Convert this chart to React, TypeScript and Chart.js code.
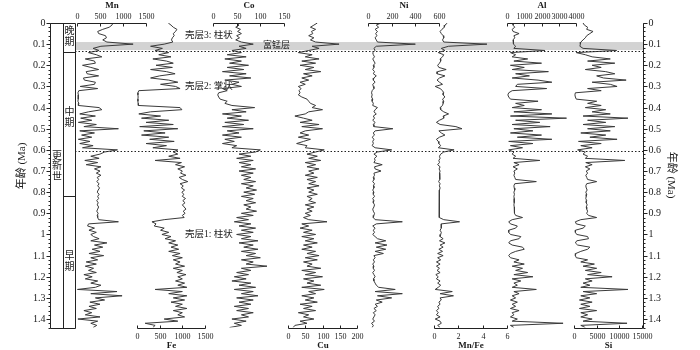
import React, { useEffect, useRef } from "react";
import { Chart, registerables } from "chart.js";

Chart.register(...registerables);

// ---------- data (age in Ma, shared by all elements) ----------
const ages = [
  0, 0.01, 0.02, 0.03, 0.04, 0.05, 0.06, 0.07, 0.08, 0.09,
  0.1, 0.11, 0.12, 0.13, 0.14, 0.15, 0.16, 0.17, 0.18, 0.19,
  0.2, 0.21, 0.22, 0.23, 0.24, 0.25, 0.26, 0.27, 0.28, 0.29,
  0.3, 0.31, 0.32, 0.33, 0.34, 0.35, 0.36, 0.37, 0.38, 0.39,
  0.4, 0.41, 0.42, 0.43, 0.44, 0.45, 0.46, 0.47, 0.48, 0.49,
  0.5, 0.51, 0.52, 0.53, 0.54, 0.55, 0.56, 0.57, 0.58, 0.59,
  0.6, 0.61, 0.62, 0.63, 0.64, 0.65, 0.66, 0.67, 0.68, 0.69,
  0.7, 0.71, 0.72, 0.73, 0.74, 0.75, 0.76, 0.77, 0.78, 0.79,
  0.8, 0.81, 0.82, 0.83, 0.84, 0.85, 0.86, 0.87, 0.88, 0.89,
  0.9, 0.91, 0.92, 0.93, 0.94, 0.95, 0.96, 0.97, 0.98, 0.99,
  1.0, 1.01, 1.02, 1.03, 1.04, 1.05, 1.06, 1.07, 1.08, 1.09,
  1.1, 1.11, 1.12, 1.13, 1.14, 1.15, 1.16, 1.17, 1.18, 1.19,
  1.2, 1.21, 1.22, 1.23, 1.24, 1.25, 1.26, 1.27, 1.28, 1.29,
  1.3, 1.31, 1.32, 1.33, 1.34, 1.35, 1.36, 1.37, 1.38, 1.39,
  1.4, 1.41, 1.42, 1.43, 1.44,
];

const mn = [
  780, 760, 700, 560, 450, 470, 620, 640, 560, 650,
  1220, 520, 350, 480, 250, 420, 540, 180, 380, 400,
  120, 300, 470, 200, 220, 470, 140, 160, 400, 380,
  70, 450, 40, 20, 30, 25, 30, 20, 40, 30,
  480, 540, 250, 60, 400, 80, 320, 30, 420, 150,
  900, 60, 380, 100, 320, 30, 280, 60, 350, 120,
  880, 600, 500, 300, 480, 170, 450, 200, 520, 380,
  500, 420, 520, 440, 470, 430, 480, 450, 490, 460,
  440, 480, 450, 470, 430, 460, 440, 470, 450, 430,
  460, 440, 450, 470, 900, 250, 230, 380, 260, 420,
  300, 360, 480, 300, 650, 380, 560, 330, 500, 260,
  580, 300, 450, 200, 420, 180, 360, 250, 420, 150,
  330, 180, 450, 300, 520, 400, 10, 870, 300, 980,
  400, 600, 280, 500, 260, 420, 150, 320, 180, 500,
  20, 450, 300, 430, 350,
];

const fe = [
  690, 750, 800, 880, 850, 800, 820, 780, 760, 790,
  600, 300, 560, 400, 700, 480, 750, 350, 650, 800,
  420, 780, 300, 650, 840, 500, 300, 700, 900, 520,
  850, 950, 40, 20, 20, 25, 20, 20, 25, 30,
  950, 990, 300, 40, 520, 100, 700, 200, 800, 60,
  900, 150, 620, 100, 700, 280, 820, 200, 650, 350,
  900, 800, 900, 700, 950, 400, 980, 850, 1050, 900,
  1000, 960, 1080, 930, 1000, 1120, 950, 1020, 980, 1050,
  990, 1030, 1000, 1070, 1010, 1060, 1000, 1040, 1080, 1020,
  1060, 1000, 1040, 600, 330, 420, 380, 600, 520, 700,
  550, 750, 620, 850, 700, 900, 750, 920, 700, 950,
  780, 1000, 800, 950, 850, 1050, 800, 1000, 880, 1080,
  900, 1000, 850, 1050, 900, 1100, 400, 1000, 700, 1100,
  800, 1050, 750, 1000, 850, 1100, 800, 1000, 900, 1050,
  600, 900, 180, 400, 350,
];

const co = [
  50, 55, 48, 58, 52, 60, 50, 56, 48, 60,
  85, 55, 70, 40, 60, 30, 70, 25, 60, 35,
  75, 30, 65, 20, 70, 35, 80, 25, 55, 40,
  60, 20, 30, 12, 10, 12, 15, 30, 25, 40,
  88, 40, 70, 20, 60, 30, 75, 25, 65, 20,
  85, 30, 55, 20, 60, 25, 45, 20, 50, 40,
  100, 90, 55, 80, 50, 85, 55, 80, 60, 90,
  55, 85, 60, 80, 65, 90, 60, 85, 70, 92,
  65, 88, 60, 85, 70, 90, 65, 80, 70, 92,
  60, 85, 50, 75, 45, 80, 55, 90, 60, 85,
  50, 80, 60, 95, 55, 85, 65, 95, 60, 90,
  70, 100, 60, 85, 70, 114, 60, 80, 50, 75,
  45, 70, 40, 80, 55, 90, 45, 85, 60, 95,
  50, 85, 55, 80, 45, 75, 50, 85, 60, 75,
  40, 70, 45, 60, 35,
];

const cu = [
  85, 75, 65, 80, 68, 72, 60, 75, 65, 80,
  148, 70, 90, 60, 30, 70, 50, 90, 40, 80,
  35, 75, 50, 95, 45, 70, 40, 60, 35, 50,
  30, 38, 32, 35, 30, 40, 55, 60, 65, 80,
  70, 100, 60, 50, 20, 45, 70, 35, 90, 40,
  100, 50, 35, 60, 30, 65, 45, 25, 55, 50,
  105, 80, 55, 85, 60, 95, 50, 80, 55, 90,
  60, 75, 50, 85, 55, 80, 60, 90, 55, 75,
  60, 85, 55, 70, 60, 80, 50, 75, 55, 70,
  50, 65, 45, 60, 113, 40, 60, 35, 70, 45,
  80, 40, 75, 50, 85, 45, 70, 40, 80, 55,
  90, 50, 85, 45, 70, 55, 95, 40, 80, 50,
  100, 45, 75, 55, 95, 40, 105, 60, 80, 40,
  75, 50, 85, 35, 70, 45, 80, 30, 60, 45,
  75, 35, 55, 20, 15,
];

const ni = [
  110, 70, 90, 60, 80, 65, 75, 60, 70, 80,
  400, 70, 50, 60, 40, 45, 55, 40, 50, 60,
  45, 50, 40, 55, 45, 70, 50, 45, 60, 40,
  45, 50, 35, 30, 35, 30, 40, 35, 45, 40,
  80, 60, 50, 70, 45, 55, 40, 60, 45, 50,
  210, 60, 45, 55, 35, 50, 40, 45, 35, 60,
  200, 80, 50, 75, 55, 60, 50, 120, 55, 60,
  110, 50, 55, 45, 50, 40, 55, 45, 50, 40,
  50, 45, 55, 40, 50, 45, 55, 50, 40, 45,
  55, 50, 45, 60, 290, 70, 40, 60, 45, 55,
  40, 60, 80, 150, 60, 160, 70, 150, 60, 130,
  50, 60, 45, 55, 40, 50, 45, 55, 40, 50,
  60, 45, 50, 60, 70, 90, 230, 60, 290, 80,
  200, 70, 120, 60, 80, 50, 70, 45, 60, 50,
  40, 55, 30, 45, 35,
];

const mnFe = [
  1.1, 0.9, 0.85, 0.65, 0.5, 0.6, 0.75, 0.8, 0.7, 0.8,
  4.35, 1.2, 0.6, 0.9, 0.35, 0.8, 0.7, 0.5, 0.55, 0.45,
  0.3, 0.4, 1.0, 0.3, 0.25, 0.9, 0.45, 0.25, 0.45, 0.7,
  0.1, 0.5, 0.7, 0.8, 0.75, 0.9, 0.7, 0.8, 0.75, 0.7,
  0.5, 0.55, 0.8, 1.2, 0.75, 0.8, 0.45, 0.2, 0.5, 1.8,
  2.3, 0.4, 0.6, 0.9, 0.45, 0.2, 0.35, 0.4, 0.55, 0.35,
  1.65, 0.8, 0.55, 0.45, 0.5, 0.4, 0.45, 0.3, 0.5, 0.42,
  0.5, 0.45, 0.48, 0.47, 0.47, 0.38, 0.5, 0.44, 0.5, 0.45,
  0.44, 0.46, 0.45, 0.44, 0.42, 0.43, 0.44, 0.45, 0.42, 0.42,
  0.43, 0.44, 0.43, 0.8, 2.1, 0.6, 0.6, 0.6, 0.5, 0.6,
  0.55, 0.5, 0.75, 0.45, 0.9, 0.5, 0.75, 0.4, 0.7, 0.3,
  0.75, 0.3, 0.55, 0.2, 0.5, 0.2, 0.45, 0.25, 0.5, 0.15,
  0.35, 0.2, 0.5, 0.3, 0.55, 0.35, 0.1, 1.5, 0.5, 1.6,
  0.5, 0.6, 0.4, 0.5, 0.3, 0.4, 0.2, 0.35, 0.2, 0.5,
  0.1, 0.5, 0.6, 0.3, 0.5,
];

const al = [
  400, 350, 450, 300, 350, 700, 400, 450, 350, 400,
  350, 500, 400, 2200, 200, 500, 300, 1200, 400, 2000,
  200, 1000, 300, 2400, 500, 1300, 300, 1800, 2600, 600,
  500, 2300, 300, 100, 50, 100, 200, 1800, 500, 1000,
  300, 2000, 400, 2600, 200, 3450, 500, 1900, 300, 2500,
  400, 1500, 200, 2000, 600, 2600, 100, 1500, 200, 900,
  100, 400, 300, 500, 350, 1900, 400, 700, 350, 600,
  400, 450, 400, 450, 500, 1700, 450, 400, 420, 450,
  400, 430, 400, 420, 410, 430, 400, 420, 430, 450,
  420, 500, 900, 300, 100, 200, 600, 500, 100, 100,
  200, 800, 700, 200, 100, 300, 900, 1000, 500, 200,
  100, 200, 700, 400, 1000, 300, 900, 500, 1200, 400,
  1500, 300, 800, 400, 600, 300, 1700, 400, 700, 300,
  500, 200, 600, 300, 500, 200, 700, 300, 400, 200,
  600, 300, 3250, 200, 400,
];

const si = [
  2000, 2300, 3000, 2800, 4200, 3500, 2800, 2500, 2000, 1500,
  1400, 1300, 2000, 9400, 500, 2500, 4000, 8000, 3000, 9000,
  4000, 6000, 2500, 7000, 9000, 5000, 6500, 11500, 4000, 8000,
  9500, 3000, 6000, 300, 200, 300, 500, 5000, 3000, 6000,
  2500, 7000, 4000, 8000, 2000, 11900, 3000, 7000, 2000, 9000,
  3000, 8000, 1500, 7000, 3500, 9500, 1000, 6000, 1500, 4000,
  800, 2500, 2000, 3000, 2500, 11200, 2600, 4000, 2500, 3500,
  2700, 3000, 2600, 2800, 3000, 5000, 2800, 2600, 2700, 2900,
  2600, 2800, 2700, 2600, 2800, 2700, 2900, 2700, 2800, 3000,
  2800, 3200, 5000, 1500, 300, 500, 2500, 2000, 300, 300,
  600, 3000, 3200, 600, 300, 800, 3500, 3000, 1500, 400,
  300, 500, 3000, 1500, 4500, 2000, 5000, 2500, 6000, 3000,
  8400, 2500, 4000, 2000, 3500, 1500, 11900, 2000, 5000, 1500,
  3500, 1200, 4000, 1500, 3500, 1200, 5000, 1500, 3000, 1500,
  4000, 2000, 11700, 1500, 2500,
];

// ---------- tick labels ----------
const mnTicks = [0, 500, 1000, 1500];
const feTicks = [0, 500, 1000, 1500];
const coTicks = [0, 50, 100, 150];
const cuTicks = [0, 50, 100, 150, 200];
const niTicks = [0, 200, 400, 600];
const mnFeTicks = [0, 2, 4, 6];
const alTicks = [0, 1000, 2000, 3000, 4000];
const siTicks = [0, 5000, 10000, 15000];

const ageTicks = [0, 0.1, 0.2, 0.3, 0.4, 0.5, 0.6, 0.7, 0.8, 0.9, 1, 1.1, 1.2, 1.3, 1.4];
const ageTickLabels = ["0", "0.1", "0.2", "0.3", "0.4", "0.5", "0.6", "0.7", "0.8", "0.9", "1", "1.1", "1.2", "1.3", "1.4"];
const ageTitle = "年龄 (Ma)";

// ---------- annotations ----------
const bandAges = [0.09, 0.128];
const boundaryAges = [0.131, 0.606];
const stageBounds = [0.135, 0.82];
const stageNames = ["晚期", "中期", "早期"];
const stageCenters = [0.067, 0.447, 1.13];
const epochName = "更新世";
const epochCenter = 0.68;
const shellLabels = ["壳层3: 柱状", "壳层2: 掌状", "壳层1: 柱状"];
const shellAges = [0.06, 0.3, 1.0];
const mnLayerLabel = "富锰层";
const mnLayerAge = 0.109;

// ---------- layout ----------
const L = 50, R = 643, T = 23, B = 327.5;
const COL_MID = 63, COL_R = 75;

const panels = [
  { id: "xMn", name: "Mn", data: mn, ticks: mnTicks, p0: 77, p1: 146, side: "top" },
  { id: "xFe", name: "Fe", data: fe, ticks: feTicks, p0: 137, p1: 205, side: "bottom" },
  { id: "xCo", name: "Co", data: co, ticks: coTicks, p0: 213, p1: 284, side: "top" },
  { id: "xCu", name: "Cu", data: cu, ticks: cuTicks, p0: 288, p1: 357, side: "bottom" },
  { id: "xNi", name: "Ni", data: ni, ticks: niTicks, p0: 368, p1: 439, side: "top" },
  { id: "xMnFe", name: "Mn/Fe", data: mnFe, ticks: mnFeTicks, p0: 434, p1: 507, side: "bottom" },
  { id: "xAl", name: "Al", data: al, ticks: alTicks, p0: 507, p1: 576, side: "top" },
  { id: "xSi", name: "Si", data: si, ticks: siTicks, p0: 574, p1: 642, side: "bottom" },
];

const SERIF = '"Liberation Serif", "Noto Sans CJK SC", serif';
const INK = "#1a1a1a";

const decor = {
  id: "decor",
  beforeDatasetsDraw(chart: any) {
    const { ctx, chartArea: ca } = chart;
    const ys = chart.scales.y;
    const t = ys.getPixelForValue(bandAges[0]);
    const b = ys.getPixelForValue(bandAges[1]);
    ctx.save();
    ctx.fillStyle = "#d3d3d3";
    ctx.fillRect(COL_R, t, ca.right - COL_R, b - t);
    ctx.restore();
  },
  afterDatasetsDraw(chart: any) {
    const { ctx, chartArea: ca } = chart;
    const ys = chart.scales.y;
    const Y = (a: number) => ys.getPixelForValue(a);
    const top = Math.round(ca.top) + 0.5;
    const bot = Math.round(ca.bottom) + 0.5;
    const xl = Math.round(ca.left) + 0.5;
    const xr = Math.round(ca.right) + 0.5;
    const line = (x1: number, y1: number, x2: number, y2: number) => {
      ctx.beginPath();
      ctx.moveTo(x1, y1);
      ctx.lineTo(x2, y2);
      ctx.stroke();
    };
    ctx.save();
    ctx.strokeStyle = "#222";
    ctx.fillStyle = INK;
    ctx.lineWidth = 1;

    // dotted boundaries
    ctx.setLineDash([1.5, 2]);
    boundaryAges.forEach((a) => {
      const y = Math.round(Y(a)) + 0.5;
      line(COL_R, y, ca.right, y);
    });
    ctx.setLineDash([]);

    // age axes
    line(xl, top, xl, bot);
    line(xr, top, xr, bot);
    for (let a = 0; a <= 1.4401; a += 0.02) {
      const y = Math.round(Y(a)) + 0.5;
      line(xl - 2, y, xl, y);
      line(xr, y, xr + 2, y);
    }
    ctx.font = `10px ${SERIF}`;
    ctx.textBaseline = "middle";
    ageTicks.forEach((a, i) => {
      const y = Math.round(Y(a)) + 0.5;
      line(xl - 4, y, xl, y);
      line(xr, y, xr + 4, y);
      ctx.textAlign = "right";
      ctx.fillText(ageTickLabels[i], xl - 5, y);
      ctx.textAlign = "left";
      ctx.fillText(ageTickLabels[i], xr + 5, y);
    });

    // age titles
    ctx.font = `11px ${SERIF}`;
    ctx.textAlign = "center";
    ctx.save();
    ctx.translate(22, 166);
    ctx.rotate(-Math.PI / 2);
    ctx.fillText(ageTitle, 0, 0);
    ctx.restore();
    ctx.save();
    ctx.translate(671, 175);
    ctx.rotate(Math.PI / 2);
    ctx.fillText(ageTitle, 0, 0);
    ctx.restore();

    // stratigraphic column
    const cm = COL_MID + 0.5, cr = COL_R + 0.5;
    line(xl, top, cr, top);
    line(xl, bot, cr, bot);
    line(cm, top, cm, bot);
    line(cr, top, cr, bot);
    stageBounds.forEach((a) => {
      const y = Math.round(Y(a)) + 0.5;
      line(cm, y, cr, y);
    });
    ctx.font = `10px ${SERIF}`;
    ctx.textAlign = "center";
    ctx.textBaseline = "middle";
    stageNames.forEach((s, i) => {
      const yc = Y(stageCenters[i]);
      const chars = Array.from(s);
      chars.forEach((c, j) => ctx.fillText(c, (COL_MID + COL_R) / 2 + 0.5, yc + (j - (chars.length - 1) / 2) * 11));
    });
    const ec = Array.from(epochName);
    ec.forEach((c, j) => ctx.fillText(c, (L + COL_MID) / 2 + 0.5, Y(epochCenter) + (j - (ec.length - 1) / 2) * 10.5));

    // panel axes
    panels.forEach((p) => {
      const xs = chart.scales[p.id];
      const v0 = p.ticks[0], v1 = p.ticks[p.ticks.length - 1];
      const x0 = Math.round(xs.getPixelForValue(v0)) + 0.5;
      const x1 = Math.round(xs.getPixelForValue(v1)) + 0.5;
      const isTop = p.side === "top";
      const ay = isTop ? top : bot;
      line(x0, ay, x1, ay);
      ctx.font = `8px ${SERIF}`;
      ctx.textAlign = "center";
      ctx.textBaseline = "middle";
      p.ticks.forEach((v) => {
        const x = Math.round(xs.getPixelForValue(v)) + 0.5;
        line(x, ay, x, isTop ? ay + 3 : ay - 3);
        ctx.fillText(String(v), x, isTop ? ay - 7 : ay + 8);
      });
      ctx.font = `bold 9px ${SERIF}`;
      ctx.fillText(p.name, (x0 + x1) / 2, isTop ? ay - 18 : ay + 17.5);
    });

    // shell labels
    ctx.font = `9.5px ${SERIF}`;
    ctx.textAlign = "left";
    ctx.textBaseline = "middle";
    shellLabels.forEach((s, i) => ctx.fillText(s, 185, Y(shellAges[i])));
    ctx.font = `9px ${SERIF}`;
    ctx.fillText(mnLayerLabel, 263, Y(mnLayerAge));

    ctx.restore();
  },
};

export default function App() {
  const ref = useRef<HTMLCanvasElement>(null);
  useEffect(() => {
    const canvas = ref.current;
    if (!canvas) return;
    const scales: any = {
      y: { type: "linear", display: false, reverse: true, min: 0, max: 1.44 },
    };
    panels.forEach((p) => {
      const v0 = p.ticks[0], v1 = p.ticks[p.ticks.length - 1];
      const k = (v1 - v0) / (p.p1 - p.p0);
      scales[p.id] = {
        type: "linear",
        axis: "x",
        position: "bottom",
        display: false,
        min: v0 - (p.p0 - L) * k,
        max: v0 + (R - p.p0) * k,
      };
    });
    const chart = new Chart(canvas, {
      type: "scatter",
      data: {
        datasets: panels.map((p) => ({
          label: p.name,
          data: ages.map((a, i) => ({ x: p.data[i], y: a })),
          xAxisID: p.id,
          yAxisID: "y",
          showLine: true,
          pointRadius: 0,
          borderColor: "#3a3a3a",
          borderWidth: 1,
          tension: 0,
          fill: false,
        })),
      },
      options: {
        responsive: false,
        animation: false,
        devicePixelRatio: 1,
        events: [],
        layout: { padding: { left: L, right: 700 - R, top: T, bottom: 350 - B } },
        scales,
        plugins: { legend: { display: false }, tooltip: { enabled: false } },
      },
      plugins: [decor],
    } as any);
    return () => chart.destroy();
  }, []);
  return (
    <div style={{ position: "fixed", left: 0, top: 0, width: 700, height: 350, background: "#fff" }}>
      <canvas ref={ref} width={700} height={350} style={{ display: "block" }} />
    </div>
  );
}
